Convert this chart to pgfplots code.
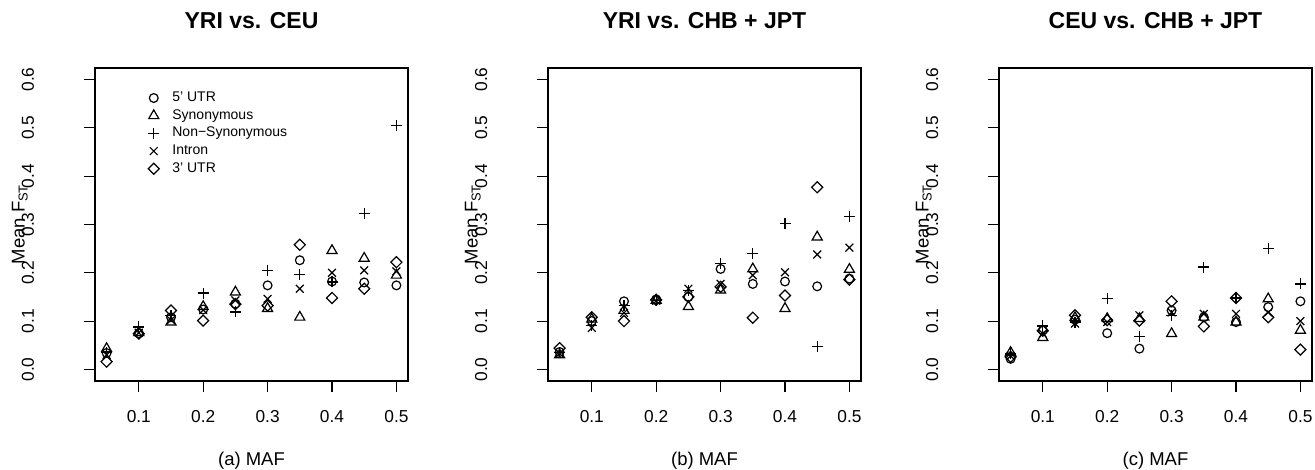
\documentclass[border=0pt]{standalone}
\usepackage{fontspec}
\setmainfont{Liberation Sans}
\usepackage{graphicx}
\usepackage{pgfplots}
\usepackage{pgfplotstable}
\pgfplotsset{compat=1.18}

% MAF bins, then mean F_ST for: 5'UTR, Synonymous, Non-Syn, Intron, 3'UTR
\pgfplotstableread{
x    c     t     p     k     d
0.05 0.034 0.043 0.035 0.030 0.016
0.10 0.075 0.076 0.088 0.076 0.074
0.15 0.108 0.098 0.111 0.102 0.122
0.20 0.124 0.130 0.158 0.123 0.101
0.25 0.136 0.160 0.119 0.143 0.135
0.30 0.174 0.126 0.205 0.146 0.132
0.35 0.226 0.108 0.197 0.167 0.258
0.40 0.182 0.246 0.181 0.200 0.148
0.45 0.180 0.230 0.322 0.205 0.167
0.50 0.174 0.195 0.505 0.203 0.222
}\yriceu

\pgfplotstableread{
x    c     t     p     k     d
0.05 0.036 0.030 0.035 0.033 0.044
0.10 0.100 0.104 0.091 0.086 0.108
0.15 0.141 0.122 0.132 0.117 0.100
0.20 0.145 0.143 0.143 0.142 0.144
0.25 0.150 0.130 0.163 0.167 0.150
0.30 0.208 0.164 0.219 0.177 0.171
0.35 0.177 0.208 0.240 0.195 0.107
0.40 0.182 0.126 0.302 0.201 0.153
0.45 0.172 0.274 0.048 0.238 0.377
0.50 0.188 0.207 0.316 0.252 0.186
}\yrichb

\pgfplotstableread{
x    c     t     p     k     d
0.05 0.022 0.035 0.032 0.028 0.026
0.10 0.081 0.066 0.090 0.074 0.080
0.15 0.103 0.107 0.098 0.095 0.112
0.20 0.075 0.105 0.146 0.098 0.102
0.25 0.043 0.105 0.068 0.112 0.101
0.30 0.122 0.074 0.112 0.118 0.141
0.35 0.108 0.108 0.212 0.115 0.089
0.40 0.098 0.098 0.148 0.115 0.148
0.45 0.129 0.146 0.250 0.118 0.108
0.50 0.141 0.081 0.177 0.100 0.041
}\ceuchb

\newcommand{\meanfst}{\rotatebox{90}{Mean F\textsubscript{ST}}}
\tikzset{ylab/.style={anchor=east, inner sep=0pt, font=\fontsize{18.5}{22}\selectfont}}

\pgfplotsset{
  panel/.style={
    scale only axis, width=313pt, height=313pt,
    anchor=south west, clip=false,
    xmin=0.032, xmax=0.518, ymin=-0.024, ymax=0.624,
    xtick={0.1,0.2,0.3,0.4,0.5},
    ytick={0,0.1,0.2,0.3,0.4,0.5,0.6},
    xtick pos=bottom, ytick pos=left,
    tick align=outside, major tick length=11pt,
    tick style={line width=1.2pt, black},
    axis line style={line width=1.3pt},
    /pgf/number format/assume math mode=true,
    /pgf/number format/fixed,
    /pgf/number format/fixed zerofill,
    /pgf/number format/precision=1,
    tick label style={font=\fontsize{17.3}{20}\selectfont},
    xticklabel style={anchor=base, yshift=-30pt},
    yticklabel style={rotate=90, anchor=base, yshift=50pt},
    every axis title/.style={at={(axis description cs:0.5,1)}, anchor=base, yshift=39pt,
      font=\bfseries\fontsize{23}{27}\selectfont},
    every axis x label/.style={at={(axis description cs:0.5,0)}, anchor=base, yshift=-84pt,
      font=\fontsize{18.5}{22}\selectfont},
    legend image code/.code={\path (-6pt,0pt) (6pt,0pt); \draw[#1] plot coordinates {(0pt,0pt)};},
  },
  utrfive/.style={only marks, black, line width=1.2pt, mark=o, mark size=4.4pt},
  synon/.style={only marks, black, line width=1.2pt, mark=triangle, mark size=5.8pt},
  nonsyn/.style={only marks, black, line width=1.2pt, mark=+, mark size=5.5pt},
  intron/.style={only marks, black, line width=1.2pt, mark=x, mark size=5.5pt},
  utrthree/.style={only marks, black, line width=1.2pt, mark=square, mark size=3.9pt,
    mark options={rotate=45}},
}

\begin{document}
\begin{tikzpicture}

\begin{axis}[panel, at={(95pt,-381pt)},
  title={YRI vs. CEU}, xlabel={(a) MAF},
  legend style={draw=none, fill=none, at={(axis description cs:0.166,0.791)}, anchor=west,
    font=\fontsize{14}{16}\selectfont, column sep=10pt, row sep=0pt, inner sep=0pt,
    nodes={text height=10pt, text depth=3pt, inner ysep=2.35pt, inner xsep=2pt}},
  legend cell align=left]
  \addplot[utrfive]  table[x=x, y=c] {\yriceu};
  \addlegendentry{5' UTR}
  \addplot[synon]    table[x=x, y=t] {\yriceu};
  \addlegendentry{Synonymous}
  \addplot[nonsyn]   table[x=x, y=p] {\yriceu};
  \addlegendentry{Non−Synonymous}
  \addplot[intron]   table[x=x, y=k] {\yriceu};
  \addlegendentry{Intron}
  \addplot[utrthree] table[x=x, y=d] {\yriceu};
  \addlegendentry{3' UTR}
  \node[ylab] at (axis description cs:-0.214,0.5) {\meanfst};
\end{axis}

\begin{axis}[panel, at={(548pt,-381pt)},
  title={YRI vs. CHB + JPT}, xlabel={(b) MAF}]
  \addplot[utrfive]  table[x=x, y=c] {\yrichb};
  \addplot[synon]    table[x=x, y=t] {\yrichb};
  \addplot[nonsyn]   table[x=x, y=p] {\yrichb};
  \addplot[intron]   table[x=x, y=k] {\yrichb};
  \addplot[utrthree] table[x=x, y=d] {\yrichb};
  \node[ylab] at (axis description cs:-0.214,0.5) {\meanfst};
\end{axis}

\begin{axis}[panel, at={(999pt,-381pt)},
  title={CEU vs. CHB + JPT}, xlabel={(c) MAF}]
  \addplot[utrfive]  table[x=x, y=c] {\ceuchb};
  \addplot[synon]    table[x=x, y=t] {\ceuchb};
  \addplot[nonsyn]   table[x=x, y=p] {\ceuchb};
  \addplot[intron]   table[x=x, y=k] {\ceuchb};
  \addplot[utrthree] table[x=x, y=d] {\ceuchb};
  \node[ylab] at (axis description cs:-0.214,0.5) {\meanfst};
\end{axis}

\pgfresetboundingbox
\path[use as bounding box] (0pt,0pt) rectangle (1315pt,-470pt);
\end{tikzpicture}
\end{document}
